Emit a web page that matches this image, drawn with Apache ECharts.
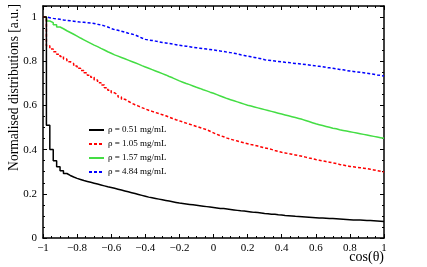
<!DOCTYPE html>
<html>
<head>
<meta charset="utf-8">
<script src="https://cdn.jsdelivr.net/npm/echarts@6/dist/echarts.min.js"></script>
<style>
html,body{margin:0;padding:0;background:#fff;}
#c{width:427px;height:267px;}
</style>
</head>
<body>
<div id="c"></div>
<script>
// ---- data (100 bins on cos(theta) from -1 to 1) ----
const binLow = -1;
const binWidth = 0.02;
const seriesNames = ['\u03c1 = 0.51 mg/mL', '\u03c1 = 1.05 mg/mL', '\u03c1 = 1.57 mg/mL', '\u03c1 = 4.84 mg/mL'];
const blackVals = [1.0,0.51,0.40,0.35,0.322,0.304,0.292,0.283,0.276,0.270,
0.265,0.260,0.256,0.252,0.248,0.244,0.240,0.236,0.232,0.229,
0.225,0.221,0.217,0.213,0.209,0.205,0.201,0.197,0.193,0.189,
0.185,0.182,0.179,0.176,0.173,0.170,0.167,0.164,0.161,0.158,
0.156,0.154,0.152,0.150,0.148,0.146,0.144,0.142,0.140,0.138,
0.136,0.134,0.133,0.131,0.129,0.127,0.125,0.123,0.122,0.120,
0.118,0.116,0.115,0.113,0.111,0.110,0.108,0.107,0.105,0.104,
0.102,0.101,0.100,0.098,0.097,0.096,0.095,0.094,0.093,0.092,
0.091,0.090,0.089,0.088,0.088,0.087,0.086,0.085,0.084,0.083,
0.082,0.082,0.081,0.080,0.079,0.079,0.078,0.077,0.076,0.075];
const redVals = [1.0,0.87,0.855,0.843,0.832,0.822,0.81,0.798,0.789,0.778,
0.768,0.758,0.748,0.737,0.727,0.715,0.703,0.692,0.680,0.669,
0.657,0.648,0.638,0.628,0.619,0.610,0.603,0.597,0.590,0.584,
0.578,0.573,0.568,0.563,0.558,0.553,0.547,0.541,0.535,0.530,
0.525,0.520,0.515,0.510,0.505,0.500,0.495,0.490,0.483,0.476,
0.469,0.463,0.458,0.452,0.447,0.443,0.439,0.435,0.431,0.427,
0.423,0.420,0.416,0.412,0.408,0.405,0.401,0.396,0.392,0.388,
0.385,0.382,0.379,0.376,0.373,0.370,0.366,0.362,0.359,0.355,
0.352,0.349,0.346,0.343,0.340,0.337,0.333,0.330,0.327,0.324,
0.322,0.320,0.318,0.316,0.314,0.311,0.308,0.305,0.302,0.299];
const greenVals = [1.0,0.982,0.975,0.965,0.955,0.947,0.938,0.930,0.922,0.914,
0.905,0.897,0.889,0.881,0.873,0.866,0.858,0.851,0.843,0.836,
0.829,0.823,0.817,0.811,0.805,0.799,0.793,0.787,0.780,0.774,
0.768,0.762,0.756,0.750,0.744,0.738,0.731,0.725,0.718,0.711,
0.705,0.699,0.694,0.688,0.682,0.677,0.671,0.666,0.660,0.655,
0.649,0.643,0.637,0.631,0.626,0.621,0.616,0.611,0.606,0.601,
0.597,0.593,0.589,0.585,0.581,0.577,0.573,0.569,0.565,0.561,
0.557,0.553,0.549,0.545,0.541,0.537,0.532,0.527,0.522,0.517,
0.513,0.509,0.505,0.501,0.497,0.494,0.490,0.487,0.484,0.481,
0.478,0.475,0.472,0.469,0.466,0.463,0.460,0.457,0.454,0.451];
const blueVals = [1.0,0.997,0.994,0.992,0.990,0.987,0.985,0.983,0.981,0.979,
0.977,0.976,0.974,0.973,0.971,0.967,0.964,0.960,0.955,0.948,
0.943,0.940,0.936,0.932,0.927,0.923,0.919,0.912,0.905,0.899,
0.896,0.894,0.891,0.888,0.885,0.883,0.880,0.878,0.875,0.872,
0.870,0.868,0.866,0.863,0.861,0.859,0.857,0.855,0.853,0.851,
0.849,0.846,0.844,0.841,0.839,0.836,0.833,0.829,0.826,0.823,
0.820,0.817,0.814,0.811,0.807,0.805,0.803,0.801,0.799,0.797,
0.795,0.794,0.792,0.790,0.789,0.787,0.785,0.783,0.781,0.779,
0.777,0.775,0.772,0.770,0.768,0.766,0.763,0.761,0.758,0.756,
0.754,0.752,0.750,0.748,0.746,0.743,0.741,0.738,0.736,0.733];
const xTicks = [-1, -0.8, -0.6, -0.4, -0.2, 0, 0.2, 0.4, 0.6, 0.8, 1];
const yTicks = [0, 0.2, 0.4, 0.6, 0.8, 1];

// ---- build histogram step data ----
function histData(vals) {
  const pts = vals.map((v, i) => [binLow + i * binWidth, v]);
  pts.push([binLow + vals.length * binWidth, vals[vals.length - 1]]);
  return pts;
}
const FONT = 'Liberation Serif';
function fmtNum(v) {
  const r = +(+v).toFixed(2);
  return String(r).replace('-', '\u2212');
}
function isMajor(v, step) {
  const q = v / step;
  return Math.abs(q - Math.round(q)) < 1e-6;
}
const axisLineStyle = { color: '#000', width: 1.5 };

const chart = echarts.init(document.getElementById('c'), null, { renderer: 'canvas' });
const xMin = xTicks[0], xMax = xTicks[xTicks.length - 1];
const xStep = xTicks[1] - xTicks[0];
const yStep = yTicks[1] - yTicks[0];

function xAxisCfg(pos, labels) {
  return {
    type: 'value', position: pos, min: xMin, max: xMax, interval: xStep,
    axisLine: { show: true, onZero: false, lineStyle: axisLineStyle },
    axisTick: { show: true, inside: true, length: 4, lineStyle: { color: '#000', width: 1 } },
    minorTick: { show: true, splitNumber: 4, length: 2, lineStyle: { color: '#000', width: 1 } },
    axisLabel: { show: labels, color: '#000', fontFamily: FONT, fontSize: 11, margin: 5, formatter: fmtNum },
    splitLine: { show: false }, minorSplitLine: { show: false }
  };
}
function yAxisCfg(pos, major, labels) {
  return {
    type: 'value', position: pos, min: 0, max: 1.05, interval: major ? yStep : yStep / 4,
    axisLine: { show: major, onZero: false, lineStyle: axisLineStyle },
    axisTick: { show: true, inside: true, length: major ? 4 : 2, lineStyle: { color: '#000', width: 1 } },
    axisLabel: { show: labels, color: '#000', fontFamily: FONT, fontSize: 11, margin: 6,
      formatter: v => isMajor(v, yStep) ? fmtNum(v) : '' },
    splitLine: { show: false }
  };
}

const colors = ['#000000', '#ff0000', '#44dd44', '#0000ff'];
const lineTypes = ['solid', [3, 2], 'solid', [3, 2]];
const allVals = [blackVals, redVals, greenVals, blueVals];

chart.setOption({
  animation: false,
  backgroundColor: '#fff',
  grid: { left: 43, right: 43, top: 6, bottom: 29, containLabel: false },
  xAxis: [xAxisCfg('bottom', true), xAxisCfg('top', false)],
  yAxis: [yAxisCfg('left', true, true), yAxisCfg('left', false, false),
          yAxisCfg('right', true, false), yAxisCfg('right', false, false)],
  legend: {
    orient: 'vertical', left: 88, top: 125, padding: 0,
    itemWidth: 15, itemHeight: 10, itemGap: 4,
    itemStyle: { opacity: 0 },
    textStyle: { fontFamily: FONT, fontSize: 9, lineHeight: 10, color: '#000', padding: [0, 0, 0, -1] },
    data: seriesNames
  },
  series: allVals.map((vals, k) => ({
    name: seriesNames[k], type: 'line', step: 'end',
    xAxisIndex: 0, yAxisIndex: 0,
    symbol: 'none', data: histData(vals),
    lineStyle: { color: colors[k], width: 1.5, type: lineTypes[k] },
    itemStyle: { color: colors[k] },
    z: 10 - k
  })),
  graphic: [
    { type: 'text', x: 14, y: 4, rotation: Math.PI / 2,
      style: { text: 'Normalised distributions [a.u.]', font: '13.6px "Liberation Serif"', fill: '#000',
        textAlign: 'right', textVerticalAlign: 'middle' } },
    { type: 'text', x: 384, y: 257,
      style: { text: 'cos(\u03b8)', font: '14px "Liberation Serif"', fill: '#000',
        textAlign: 'right', textVerticalAlign: 'middle' } }
  ]
});
</script>
</body>
</html>
